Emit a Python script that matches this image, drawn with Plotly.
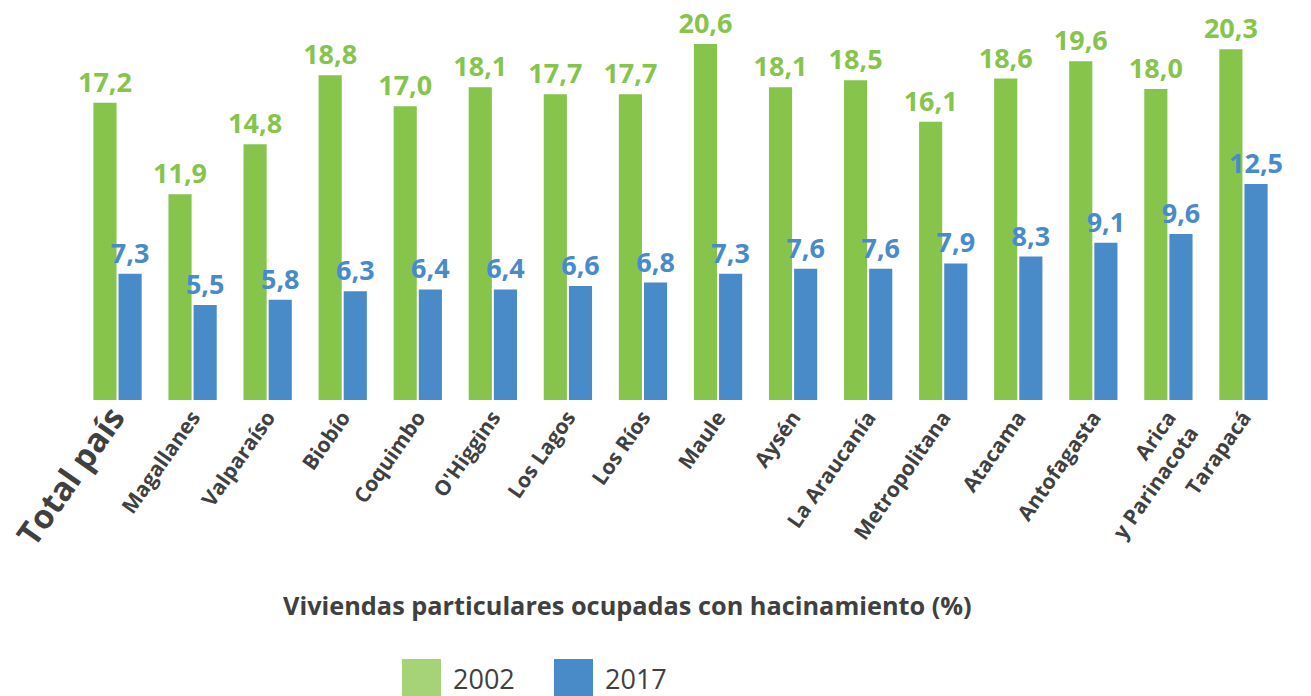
import plotly.graph_objects as go

categories = ["Total país", "Magallanes", "Valparaíso", "Biobío", "Coquimbo", "O'Higgins",
              "Los Lagos", "Los Ríos", "Maule", "Aysén", "La Araucanía", "Metropolitana",
              "Atacama", "Antofagasta", "Arica<br>y Parinacota", "Tarapacá"]
tick_labels = ["<span style='font-size:33px'>Total país</span>"] + categories[1:]
values_2002 = [17.2, 11.9, 14.8, 18.8, 17.0, 18.1, 17.7, 17.7, 20.6, 18.1, 18.5, 16.1, 18.6, 19.6, 18.0, 20.3]
values_2017 = [7.3, 5.5, 5.8, 6.3, 6.4, 6.4, 6.6, 6.8, 7.3, 7.6, 7.6, 7.9, 8.3, 9.1, 9.6, 12.5]
series_names = ["2002", "2017"]

GREEN = "#86C44C"
BLUE = "#488BC8"
GREEN_LEG = "#A6D278"
TXT = "#404040"
FONT = "Open Sans"

# page body has an 8px margin: figure internal coords = screen - 8
W, H = 1303, 688
L, R, T, B = 72, 1273, 0, 392  # plot area in internal px


def px_x(ix):
    return (ix - L) / (R - L)


def px_y(iy):
    return (B - iy) / (B - T)


x = list(range(len(categories)))

fig = go.Figure()
for name, vals, col in [(series_names[0], values_2002, GREEN), (series_names[1], values_2017, BLUE)]:
    fig.add_trace(go.Bar(
        x=x, y=vals, name=name, marker=dict(color=col, line=dict(width=0)),
        texttemplate="<b>%{y:.1f}</b>", textposition="outside",
        textfont=dict(family=FONT, size=27, color=col),
        cliponaxis=False, constraintext="none", showlegend=False,
    ))

fig.update_layout(
    width=W, height=H,
    margin=dict(l=L, r=W - R, t=T, b=H - B),
    paper_bgcolor="white", plot_bgcolor="white",
    separators=",.",
    barmode="group", bargap=0.33, bargroupgap=0.08,
    font=dict(family=FONT, color=TXT),
    xaxis=dict(range=[-0.5, 15.5], tickmode="array", tickvals=x,
               ticktext=["<b>" + t + "</b>" for t in tick_labels],
               tickangle=-55, tickfont=dict(family=FONT, size=21, color=TXT),
               ticklabeloverflow="allow",
               showgrid=False, showline=False, zeroline=False, ticks="", automargin=False),
    yaxis=dict(range=[0, (B - T) / 17.28], visible=False),
)

fig.add_annotation(text="<b>Viviendas particulares ocupadas con hacinamiento (%)</b>",
                   x=px_x(619), y=px_y(597), xref="paper", yref="paper", showarrow=False,
                   xanchor="center", yanchor="middle",
                   font=dict(family=FONT, size=25.3, color=TXT))

# legend drawn manually (large swatches)
legend_items = [(series_names[0], GREEN_LEG, 394), (series_names[1], BLUE, 546)]
for name, col, ix in legend_items:
    fig.add_shape(type="rect", xref="paper", yref="paper",
                  x0=px_x(ix), x1=px_x(ix + 39), y0=px_y(700), y1=px_y(651),
                  fillcolor=col, line=dict(width=0), layer="above")
    fig.add_annotation(text=name, xref="paper", yref="paper", x=px_x(ix + 49), y=px_y(670),
                       xanchor="left", yanchor="middle", showarrow=False,
                       font=dict(family=FONT, size=27, color=TXT))

fig.write_html("out.html")
